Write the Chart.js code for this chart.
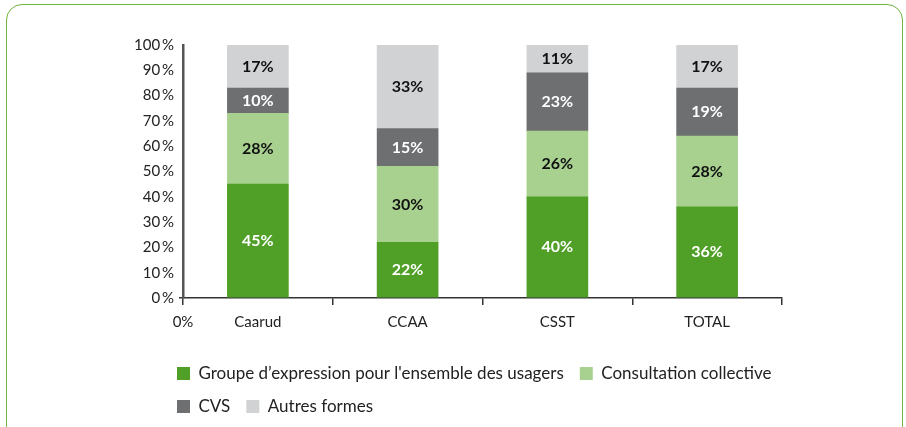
<!DOCTYPE html>
<html>
<head>
<meta charset="utf-8">
<script src="https://cdn.jsdelivr.net/npm/chart.js@4.4.1/dist/chart.umd.min.js"></script>
<style>
  html, body { margin: 0; padding: 0; background: #fff; }
  #wrap { position: relative; width: 906px; height: 427px; overflow: hidden; }
  #frame {
    position: absolute; left: 6px; top: 4px; width: 895px; height: 440px;
    border: 1.5px solid #72b43c; border-radius: 16px;
  }
  #chart { position: absolute; left: 0; top: 0; }
</style>
</head>
<body>
<div id="wrap">
  <div id="frame"></div>
  <canvas id="chart" width="906" height="427"></canvas>
</div>
<script>
// Data
const categories = ['Caarud', 'CCAA', 'CSST', 'TOTAL'];
const seriesNames = [
  'Groupe d\u2019expression pour l\'ensemble des usagers',
  'Consultation collective',
  'CVS',
  'Autres formes'
];
const groupeExpression = [45, 22, 40, 36];
const consultationCollective = [28, 30, 26, 28];
const cvs = [10, 15, 23, 19];
const autresFormes = [17, 33, 11, 17];
const yTicks = [0, 10, 20, 30, 40, 50, 60, 70, 80, 90, 100];
const originLabel = '0%';

const barColors = ['#50a028', '#a8d190', '#6e6f71', '#d1d2d4'];
const labelColors = ['#ffffff', '#111111', '#ffffff', '#111111'];

Chart.defaults.font.family = 'Lato, "Open Sans", sans-serif';
Chart.defaults.color = '#222';

// value labels in the middle of each segment
const segmentLabels = {
  id: 'segmentLabels',
  afterDatasetsDraw(chart) {
    const ctx = chart.ctx;
    ctx.save();
    ctx.font = 'bold 16px Lato, "Open Sans", sans-serif';
    ctx.textAlign = 'center';
    ctx.textBaseline = 'middle';
    chart.data.datasets.forEach(function (ds, i) {
      const meta = chart.getDatasetMeta(i);
      ctx.fillStyle = labelColors[i];
      meta.data.forEach(function (bar, j) {
        const p = bar.getProps(['x', 'y', 'base'], true);
        ctx.fillText(ds.data[j] + '%', p.x, (p.y + p.base) / 2);
      });
    });
    ctx.restore();
  }
};

// the stray "0%" under the origin, and legend shift
const extras = {
  id: 'extras',
  afterLayout(chart) {
    const shift = 177 - (chart.legend.left + 16);
    chart.legend.left += shift;
    chart.legend.right += shift;
  },
  afterDraw(chart) {
    const x = chart.scales.x;
    const ctx = chart.ctx;
    ctx.save();
    ctx.font = '15px Lato, "Open Sans", sans-serif';
    ctx.fillStyle = '#222';
    ctx.textAlign = 'center';
    ctx.textBaseline = 'middle';
    ctx.fillText(originLabel, x.left, x.top + 24);
    ctx.restore();
  }
};

const datasetsData = [groupeExpression, consultationCollective, cvs, autresFormes];

new Chart(document.getElementById('chart'), {
  type: 'bar',
  data: {
    labels: categories,
    datasets: datasetsData.map(function (d, i) {
      return {
        label: seriesNames[i],
        data: d,
        backgroundColor: barColors[i],
        borderWidth: 0,
        barThickness: 61
      };
    })
  },
  options: {
    responsive: false,
    animation: false,
    layout: { padding: { left: 123, right: 124, top: 45, bottom: 2 } },
    scales: {
      x: {
        stacked: true,
        grid: { drawOnChartArea: false, tickLength: 7, color: '#333', lineWidth: 1.5 },
        border: { color: '#333', width: 1.5 },
        ticks: { padding: 8, font: { size: 15 }, color: '#222' },
        afterFit(scale) { scale.height += 10; }
      },
      y: {
        stacked: true,
        min: 0,
        max: 100,
        afterBuildTicks(scale) { scale.ticks = yTicks.map(v => ({ value: v })); },
        grid: {
          drawOnChartArea: false,
          tickLength: 4,
          lineWidth: 1.5,
          color: ctx => (ctx.tick && ctx.tick.value === 0 ? '#333' : 'rgba(0,0,0,0)')
        },
        border: { color: '#555', width: 2.5 },
        ticks: {
          padding: 5,
          font: { size: 15 },
          color: '#222',
          callback: v => v + '\u2009%'
        },
        afterFit(scale) { scale.width = 60; }
      }
    },
    plugins: {
      tooltip: { enabled: false },
      legend: {
        position: 'bottom',
        align: 'start',
        labels: {
          boxWidth: 13,
          boxHeight: 13,
          padding: 16,
          font: { size: 17 },
          color: '#222'
        }
      }
    }
  },
  plugins: [segmentLabels, extras]
});
</script>
</body>
</html>
